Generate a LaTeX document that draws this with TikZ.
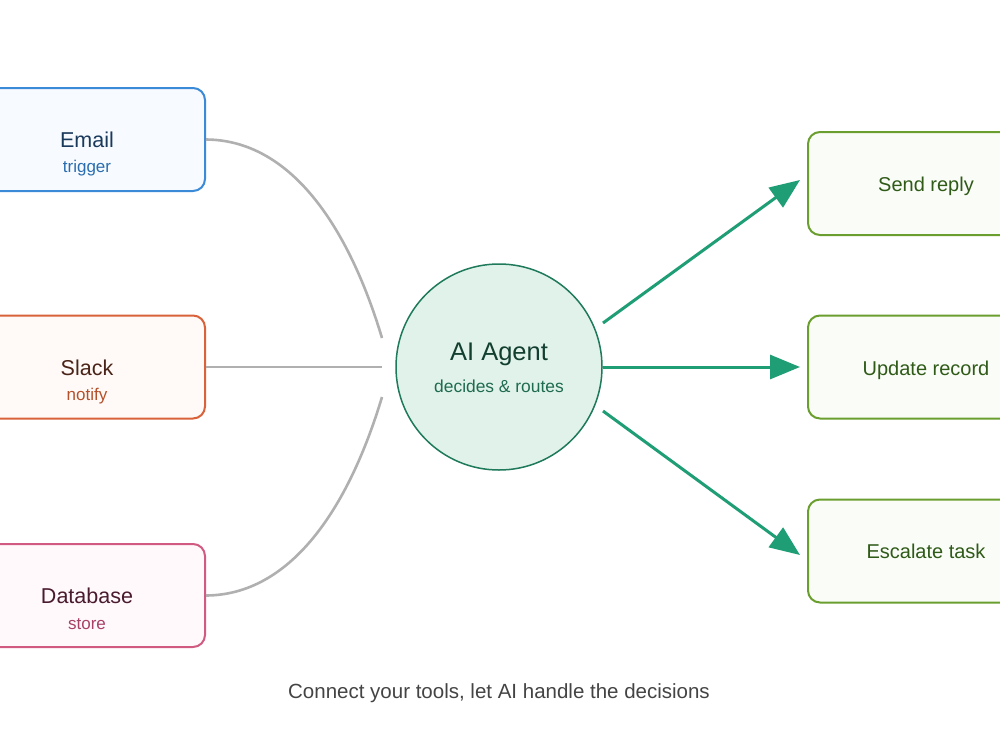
\documentclass[tikz,border=0pt]{standalone}
\usepackage{fontspec}
\setmainfont{Liberation Sans}
\usetikzlibrary{arrows.meta}
\definecolor{emailStroke}{HTML}{3A8AD8}
\definecolor{emailFill}{HTML}{F7FAFE}
\definecolor{emailText}{HTML}{1A3A5C}
\definecolor{emailSub}{HTML}{2A6DB0}
\definecolor{slackStroke}{HTML}{D9623A}
\definecolor{slackFill}{HTML}{FFFAF7}
\definecolor{slackText}{HTML}{4A2418}
\definecolor{slackSub}{HTML}{B5502A}
\definecolor{dbStroke}{HTML}{D05A80}
\definecolor{dbFill}{HTML}{FFF9FB}
\definecolor{dbText}{HTML}{4A1A2E}
\definecolor{dbSub}{HTML}{A84068}
\definecolor{actStroke}{HTML}{6A9E2E}
\definecolor{actFill}{HTML}{FAFDF7}
\definecolor{actText}{HTML}{2F5A18}
\definecolor{agentStroke}{HTML}{1E7A5A}
\definecolor{agentFill}{HTML}{E0F2EA}
\definecolor{agentText}{HTML}{123F30}
\definecolor{agentSub}{HTML}{1E6B50}
\definecolor{arrowGreen}{HTML}{1F9E76}
\definecolor{linkGray}{HTML}{B0B0B0}
\definecolor{captionGray}{HTML}{444444}
\tikzset{
  srcbox/.style={draw, line width=2pt, rounded corners=12pt, minimum width=236pt, minimum height=103pt, inner sep=0pt},
  actbox/.style={draw=actStroke, fill=actFill, line width=2pt, rounded corners=12pt, minimum width=236pt, minimum height=103pt, inner sep=0pt},
  titletext/.style={anchor=base, inner sep=0pt, font=\fontsize{21.5}{24}\selectfont},
  subtext/.style={anchor=base, inner sep=0pt, font=\fontsize{17}{20}\selectfont},
  acttext/.style={anchor=base, inner sep=0pt, text=actText, font=\fontsize{20}{24}\selectfont},
  link/.style={draw=linkGray, line width=2.6pt},
  flow/.style={draw=arrowGreen, line width=3pt, -{Triangle[length=30pt,width=24pt]}},
}
\begin{document}
\begin{tikzpicture}[x=1pt,y=-1pt]
\useasboundingbox (0,0) rectangle (1000,750);
\fill[white] (0,0) rectangle (1000,750);

% source boxes
\node[srcbox, draw=emailStroke, fill=emailFill] (email) at (87,139.5) {};
\node[srcbox, draw=slackStroke, fill=slackFill] (slack) at (87,367) {};
\node[srcbox, draw=dbStroke, fill=dbFill] (db) at (87,595.5) {};
\node[titletext, text=emailText] (emailT) at (87,147) {Email};
\node[subtext, text=emailSub] (emailS) at (87,172) {trigger};
\node[titletext, text=slackText] (slackT) at (87,375) {Slack};
\node[subtext, text=slackSub] (slackS) at (87,400) {notify};
\node[titletext, text=dbText] (dbT) at (87,603) {Database};
\node[subtext, text=dbSub] (dbS) at (87,629) {store};

% agent
\node[circle, draw=agentStroke, fill=agentFill, line width=1.5pt, minimum size=206pt, inner sep=0pt] (agent) at (499,367) {};
\node[anchor=base, inner sep=0pt, text=agentText, font=\fontsize{25.5}{28}\selectfont] (agentT) at (499,360.5) {AI Agent};
\node[anchor=base, inner sep=0pt, text=agentSub, font=\fontsize{17.4}{20}\selectfont] (agentS) at (499,392) {decides \& routes};

% action boxes
\node[actbox] (reply) at (926,183.5) {};
\node[actbox] (update) at (926,367) {};
\node[actbox] (escalate) at (926,551) {};
\node[acttext] (replyT) at (926,191) {Send reply};
\node[acttext] (updateT) at (926,375) {Update record};
\node[acttext] (escalateT) at (926,558.5) {Escalate task};

% connector end points
\coordinate (inTop) at (382,338);
\coordinate (inMid) at (382,367);
\coordinate (inBot) at (382,397);
\coordinate (outTop) at (603,323);
\coordinate (outMid) at (603,367);
\coordinate (outBot) at (603,411);
\coordinate (tipTop) at (800,180);
\coordinate (tipMid) at (800,367);
\coordinate (tipBot) at (800,555);

% gray links
\draw[link] (email.east) .. controls (290,140) and (348,225) .. (inTop);
\draw[link] (slack.east) -- (inMid);
\draw[link] (db.east) .. controls (290,595) and (348,510) .. (inBot);

% green arrows
\draw[flow] (outTop) -- (tipTop);
\draw[flow] (outMid) -- (tipMid);
\draw[flow] (outBot) -- (tipBot);

% caption
\node[anchor=base, inner sep=0pt, text=captionGray, font=\fontsize{20.5}{24}\selectfont] (caption) at (499,698) {Connect your tools, let AI handle the decisions};
\end{tikzpicture}
\end{document}
